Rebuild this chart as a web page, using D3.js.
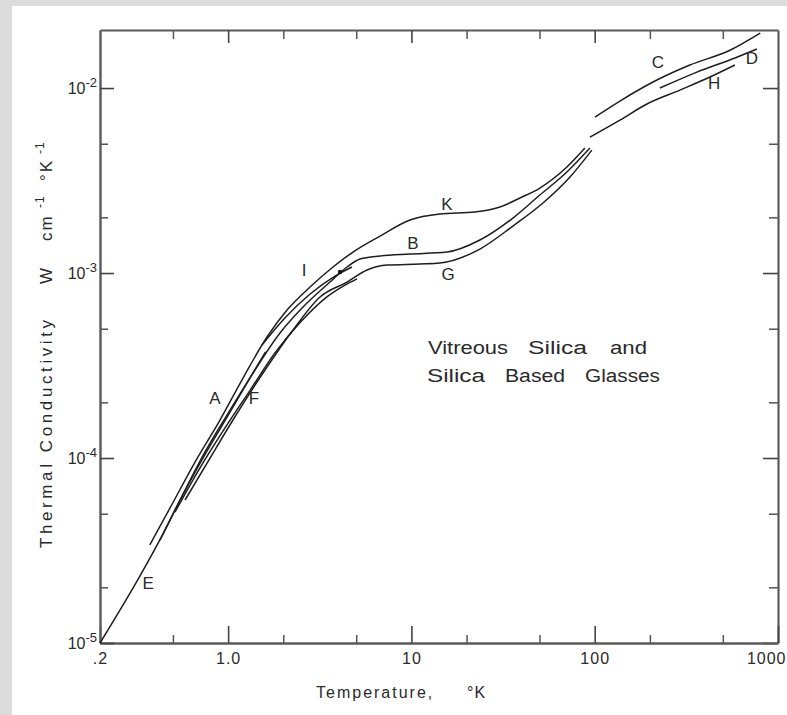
<!DOCTYPE html>
<html>
<head>
<meta charset="utf-8">
<script src="https://cdn.jsdelivr.net/npm/d3@7"></script>
<style>
  body { margin: 0; background: #ffffff; }
  svg { display: block; }
  text { font-family: "Liberation Sans", Arial, sans-serif; fill: #2a2a2a; }
</style>
</head>
<body>
<svg id="chart" width="787" height="715"></svg>
<script>
// ---------------- DATA (temperature in K, conductivity in W cm^-1 K^-1) ----------------
const tempE = [0.2, 0.33, 0.43, 0.55, 0.75, 1.0, 1.3, 1.6];
const condE = [1.0e-5, 2.3e-5, 3.7e-5, 6.0e-5, 1.05e-4, 1.7e-4, 2.65e-4, 3.75e-4];

const tempF = [0.513, 0.70, 0.96, 1.32, 1.80, 2.47, 3.38, 4.34, 5.05];
const condF = [5.1e-5, 8.8e-5, 1.45e-4, 2.33e-4, 3.7e-4, 5.4e-4, 7.3e-4, 8.6e-4, 9.3e-4];

const tempI = [1.53, 2.04, 2.80, 3.83, 4.74];
const condI = [4.08e-4, 5.71e-4, 7.70e-4, 9.63e-4, 1.078e-3];

const tempK = [0.374, 0.482, 0.66, 0.903, 1.206, 1.63, 2.096, 2.798, 3.735, 4.802, 6.742, 9.826, 14.31, 22.21, 30.4, 39.1, 50.2, 70.5, 88.4];
const condK = [3.39e-5, 5.37e-5, 9.51e-5, 1.605e-4, 2.707e-4, 4.51e-4, 6.31e-4, 8.40e-4, 1.078e-3, 1.299e-3, 1.585e-3, 1.934e-3, 2.084e-3, 2.136e-3, 2.274e-3, 2.544e-3, 2.88e-3, 3.741e-3, 4.74e-3];

const tempB = [0.425, 0.547, 0.748, 0.986, 1.367, 1.919, 2.563, 3.597, 4.454, 5.244, 6.742, 9.826, 15.62, 23.64, 35.8, 50.2, 70.5, 94.2];
const condB = [3.6e-5, 5.93e-5, 1.078e-4, 1.708e-4, 2.88e-4, 4.74e-4, 6.55e-4, 8.94e-4, 1.078e-3, 1.19e-3, 1.236e-3, 1.267e-3, 1.299e-3, 1.508e-3, 1.983e-3, 2.64e-3, 3.516e-3, 4.74e-3];

const tempG = [0.582, 0.797, 1.063, 1.63, 2.26, 3.172, 4.454, 5.727, 7.36, 11.13, 14.31, 23.64, 35.8, 52.2, 73.3, 96.5];
const condG = [5.93e-5, 1.0e-4, 1.605e-4, 3.104e-4, 4.92e-4, 7.42e-4, 8.94e-4, 1.038e-3, 1.105e-3, 1.119e-3, 1.133e-3, 1.348e-3, 1.795e-3, 2.39e-3, 3.304e-3, 4.62e-3];

const tempC = [100.3, 137.3, 218.4, 330.7, 546.6, 800.0];
const condC = [6.97e-3, 8.51e-3, 1.105e-2, 1.332e-2, 1.6e-2, 1.98e-2];

const tempD = [226.8, 361.2, 582.1, 767.3];
const condD = [1.0e-2, 1.22e-2, 1.453e-2, 1.625e-2];

const tempH = [94.2, 137.3, 192.7, 291.5, 425.2, 582.1];
const condH = [5.43e-3, 6.71e-3, 8.20e-3, 9.75e-3, 1.147e-2, 1.332e-2];

// single marked data point
const dotT = [4.08];
const dotK = [1.013e-3];

// curve letters and where they sit (T, k)
const labelNames = ["A", "B", "C", "D", "E", "F", "G", "H", "I", "K"];
const labelT = [0.848, 10.2, 221.5, 720.0, 0.366, 1.385, 15.84, 447.7, 2.595, 15.62];
const labelK = [2.11e-4, 1.45e-3, 1.382e-2, 1.45e-2, 2.11e-5, 2.11e-4, 9.88e-4, 1.064e-2, 1.038e-3, 2.36e-3];

// axes
const xDomain = [0.2, 1000];
const yDomain = [1e-5, 2.06e-2];
const xTickValues = [0.2, 1, 10, 100, 1000];
const xTickLabels = [".2", "1.0", "10", "100", "1000"];
const xMajorInner = [1, 10, 100];
const xMinorTicks = [0.5, 2, 5, 20, 50, 200, 500];
const yTickValues = [1e-5, 1e-4, 1e-3, 1e-2];
const yTickExponents = ["-5", "-4", "-3", "-2"];
const yMinorTicks = [2e-5, 5e-5, 2e-4, 5e-4, 2e-3, 5e-3];

const xTitle = "Temperature,";
const xTitleUnit = "°K";
const yTitle = "Thermal Conductivity";
const annotationLine1 = ["Vitreous", "Silica", "and"];
const annotationLine2 = ["Silica", "Based", "Glasses"];

// ---------------- DRAWING ----------------
const svg = d3.select("#chart");
svg.append("rect").attr("x", 0).attr("y", 0).attr("width", 787).attr("height", 715).attr("fill", "#dcdcdc");
svg.append("rect").attr("x", 12).attr("y", 6).attr("width", 775).attr("height", 709).attr("fill", "#ffffff");

const x = d3.scaleLog().domain(xDomain).range([100, 778]);
const y = d3.scaleLog().domain(yDomain).range([643, 30]);

const axisColor = "#5a5a5a";
const FONT = '"Liberation Sans", Arial, sans-serif';
function styleAxis(g, w) {
  g.select(".domain").attr("stroke", axisColor).attr("stroke-width", w);
  g.selectAll(".tick line").attr("stroke", "#444").attr("stroke-width", 1.6);
}

// minor ticks (no domain)
function minor(axisGen, tr) {
  const g = svg.append("g").attr("transform", tr).call(axisGen);
  g.select(".domain").remove();
  g.selectAll(".tick line").attr("stroke", "#555").attr("stroke-width", 1.5);
  g.selectAll(".tick text").remove();
}
minor(d3.axisBottom(x).tickValues(xMinorTicks).tickSize(-8).tickFormat(""), "translate(0,643)");
minor(d3.axisTop(x).tickValues(xMinorTicks).tickSize(-9).tickFormat(""), "translate(0,30)");
minor(d3.axisLeft(y).tickValues(yMinorTicks).tickSize(-8).tickFormat(""), "translate(100,0)");
minor(d3.axisRight(y).tickValues(yMinorTicks).tickSize(-9).tickFormat(""), "translate(778,0)");

// top and right frame
const gTop = svg.append("g").attr("transform", "translate(0,30)")
  .call(d3.axisTop(x).tickValues(xMajorInner).tickSizeInner(-13).tickSizeOuter(0).tickFormat(""));
styleAxis(gTop, 2.2);
const gRight = svg.append("g").attr("transform", "translate(778,0)")
  .call(d3.axisRight(y).tickValues(yTickValues).tickSizeInner(-15).tickSizeOuter(0).tickFormat(""));
styleAxis(gRight, 2.2);

// bottom axis with labels
const gBottom = svg.append("g").attr("transform", "translate(0,643)")
  .call(d3.axisBottom(x).tickValues(xTickValues).tickSizeInner(-17).tickSizeOuter(0).tickPadding(10)
    .tickFormat((d, i) => xTickLabels[i]));
styleAxis(gBottom, 2.4);
gBottom.selectAll(".tick text").attr("font-size", 16).attr("letter-spacing", 1).attr("fill", "#333")
  .attr("font-family", FONT)
  .attr("text-anchor", (d, i) => i === xTickValues.length - 1 ? "end" : "middle")
  .attr("dx", (d, i) => i === xTickValues.length - 1 ? 8 : 0);

// left axis with 10^n labels
const gLeft = svg.append("g").attr("transform", "translate(100,0)")
  .call(d3.axisLeft(y).tickValues(yTickValues).tickSizeInner(-14).tickSizeOuter(0).tickPadding(3)
    .tickFormat(() => ""));
styleAxis(gLeft, 2.4);
gLeft.selectAll(".tick text").each(function (d, i) {
  const t = d3.select(this);
  t.attr("font-size", 16).attr("fill", "#333").attr("font-family", FONT);
  t.append("tspan").attr("font-size", 16).text("10");
  t.append("tspan").attr("font-size", 13).attr("dy", "-0.5em").text(yTickExponents[i]);
});

// curves
const series = [
  { T: tempE, k: condE }, { T: tempF, k: condF }, { T: tempI, k: condI },
  { T: tempK, k: condK }, { T: tempB, k: condB }, { T: tempG, k: condG },
  { T: tempC, k: condC }, { T: tempD, k: condD }, { T: tempH, k: condH }
];
const line = d3.line().x(d => x(d[0])).y(d => y(d[1])).curve(d3.curveMonotoneX);
svg.append("g").selectAll("path").data(series).join("path")
  .attr("d", s => line(s.T.map((t, i) => [t, s.k[i]])))
  .attr("fill", "none").attr("stroke", "#1e1e1e").attr("stroke-width", 1.5);

svg.append("g").selectAll("circle").data(dotT).join("circle")
  .attr("cx", (d) => x(d)).attr("cy", (d, i) => y(dotK[i])).attr("r", 2.2).attr("fill", "#111");

// curve letters
svg.append("g").selectAll("text").data(labelNames).join("text")
  .attr("x", (d, i) => x(labelT[i])).attr("y", (d, i) => y(labelK[i]))
  .attr("dy", "0.36em").attr("text-anchor", "middle").attr("font-size", 17)
  .text(d => d);

// annotation
const ann1X = [428, 528, 610], ann1W = [80, 59, 37];
const ann2X = [427, 505, 585], ann2W = [58, 60, 75];
annotationLine1.forEach((w, i) => {
  svg.append("text").attr("x", ann1X[i]).attr("y", 354).attr("font-size", 18)
    .attr("textLength", ann1W[i]).attr("lengthAdjust", "spacingAndGlyphs").text(w);
});
annotationLine2.forEach((w, i) => {
  svg.append("text").attr("x", ann2X[i]).attr("y", 382).attr("font-size", 18)
    .attr("textLength", ann2W[i]).attr("lengthAdjust", "spacingAndGlyphs").text(w);
});

// axis titles
svg.append("text").attr("x", 316).attr("y", 698).attr("font-size", 16).attr("letter-spacing", 2).text(xTitle);
svg.append("text").attr("x", 467).attr("y", 698).attr("font-size", 16).attr("letter-spacing", 1).text(xTitleUnit);

svg.append("text").attr("transform", "translate(52,548) rotate(-90)").attr("font-size", 17)
  .attr("letter-spacing", 3.6).text(yTitle);

// unit pieces of the y title, placed along the same rotated baseline
const unitParts = ["W", "cm", "-1", "°K", "-1"];
const unitStart = [284, 241, 208, 181, 154];
const unitSup = [false, false, true, false, true];
unitParts.forEach((p, i) => {
  svg.append("text")
    .attr("transform", `translate(${unitSup[i] ? 44 : 52},${unitStart[i]}) rotate(-90)`)
    .attr("font-size", unitSup[i] ? 12 : 17).attr("letter-spacing", unitSup[i] ? 1 : 2)
    .text(p);
});
</script>
</body>
</html>
